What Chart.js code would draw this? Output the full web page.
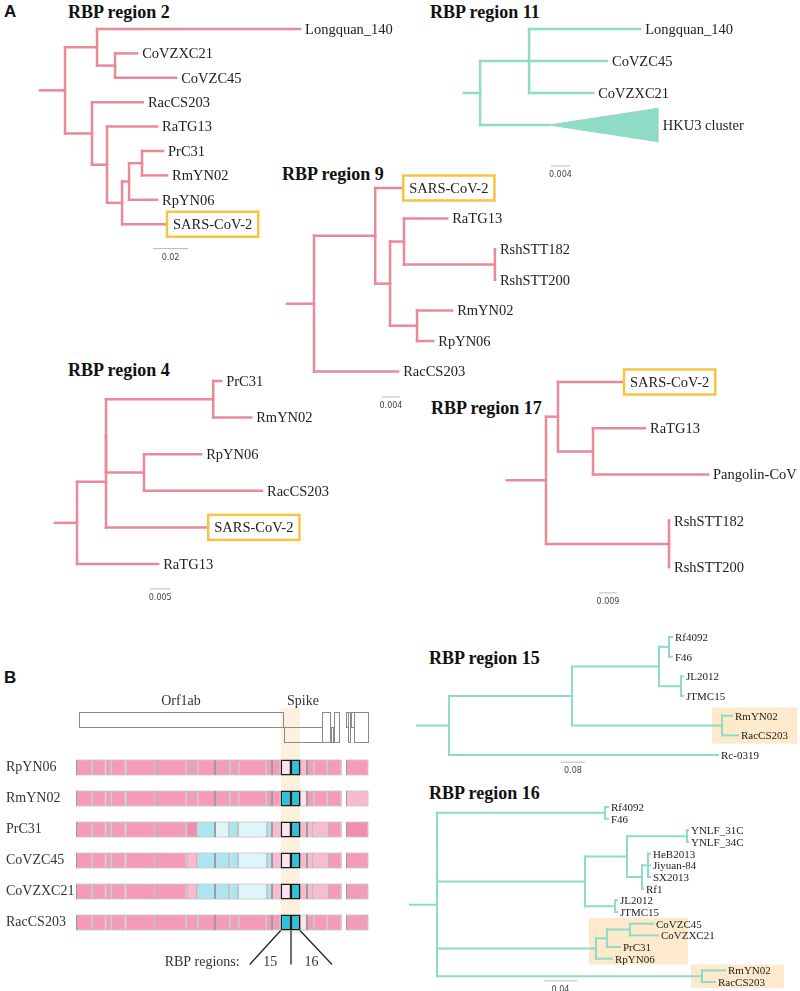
<!DOCTYPE html>
<html lang="en">
<head>
<meta charset="UTF-8">
<title>RBP region trees</title>
<script src="https://cdn.jsdelivr.net/npm/chart.js"></script>
<style>
  body { margin: 0; background: #fff; }
  #fig { position: relative; width: 800px; height: 991px; overflow: hidden; background: #fff; }
  #fig canvas { position: absolute; }
  .title { position: absolute; font: bold 18px "Liberation Serif", serif; color: #111; line-height: 22px; white-space: nowrap; }
  .panel { position: absolute; font: bold 17px "Liberation Sans", Arial, sans-serif; color: #111; line-height: 20px; }
</style>
</head>
<body>
<div id="fig">
  <div class="panel" style="left:4px;top:2px">A</div>
  <div class="panel" style="left:4px;top:668px">B</div>
  <div class="title" style="left:68px;top:1px">RBP region 2</div>
  <div class="title" style="left:430px;top:1px">RBP region 11</div>
  <div class="title" style="left:282px;top:163px">RBP region 9</div>
  <div class="title" style="left:68px;top:359px">RBP region 4</div>
  <div class="title" style="left:431px;top:397px">RBP region 17</div>
  <div class="title" style="left:429px;top:647px">RBP region 15</div>
  <div class="title" style="left:429px;top:782px">RBP region 16</div>
</div>
<script>
// ---- trees (newick, branch lengths) ----
const tree2 = "((Longquan_140:0.116,(CoVZXC21:0.0126,CoVZC45:0.0349):0.0103):0.0183,(RacCS203:0.0291,(RaTG13:0.0286,(((PrC31:0.012,RmYN02:0.0143):0.0074,RpYN06:0.016):0.004,SARS-CoV-2:0.0251):0.0086):0.0086):0.0154):0.0143;";
const tree11 = "((Longquan_140:0.0234,CoVZC45:0.0164,CoVZXC21:0.0135):0.0103,HKU3 cluster:0.0145):0.0034;";
const tree9 = "((SARS-CoV-2:0.006,((RaTG13:0.0096,(RshSTT182:0,RshSTT200:0):0.0202):0.0031,(RmYN02:0.0078,RpYN06:0.0036):0.006):0.0033):0.0136,RacCS203:0.0187):0.006;";
const tree4 = "((((PrC31:0.002,RmYN02:0.0095):0.0268,(RpYN06:0.0143,RacCS203:0.0295):0.0095):0,SARS-CoV-2:0.0253):0.00725,RaTG13:0.0203):0.0055;";
const tree17 = "((SARS-CoV-2:0.0325,(RaTG13:0.026,Pangolin-CoV:0.0575):0.0175):0.006,(RshSTT182:0,RshSTT200:0):0.0615):0.0195;";
const tree15 = "((((Rf4092:0.01,F46:0.01):0.0333,(JL2012:0.0067,JTMC15:0.0067):0.0733):0.29,(RmYN02:0.0333,RacCS203:0.0533):0.5):0.41,Rc-0319:0.8967):0.1067;";
const tree16 = "(((Rf4092:0.0036,F46:0.0036):0.2036,(((YNLF_31C:0.0012,YNLF_34C:0.0012):0.0727,((HeB2013:0.0024,Jiyuan-84:0.0024,SX2013:0.0024):0.0073,Rf1:0.0012):0.0182):0.0509,(JL2012:0.0024,JTMC15:0.0024):0.0364):0.1794):0,((((CoVZC45:0.0279,CoVZXC21:0.0339):0.0279,PrC31:0.0158):0.0133,RpYN06:0.0194):0.1927,(RmYN02:0.0279,RacCS203:0.0158):0.3212):0):0.0327;";

// collapsed clade in region 11: extra depth of the triangle
const hku3Depth = 0.0229;
const hku3Spread = 0.52;

// ---- genome panel ----
const strainRows = ['RpYN06', 'RmYN02', 'PrC31', 'CoVZC45', 'CoVZXC21', 'RacCS203'];
const segStart = [0, 1710, 3020, 3655, 5068, 8170, 11334, 12420, 14232, 15696, 16618, 19526, 20068, 20959, 22014, 22935, 23652, 24297, 25771, 27645];
const segEnd = [1710, 3020, 3655, 5068, 8170, 11334, 12420, 14232, 15696, 16618, 19526, 20068, 20959, 22014, 22935, 23652, 24297, 25771, 27205, 29949];
const cellPattern = [
  'PPPPPPPPPPPPPwCpPPPP',
  'PPPPPPPPPPPPPCCwPPPp',
  'PPPPPPDcvcvcpwCpppPD',
  'PPPPPPpcccvcpwCpppPP',
  'PPPPPPpcccvcpwCpppPP',
  'PPPPPPPPPPPPPCCwPPPP'
];
const rbpCols = [13, 14];
const rbpLabels = ['15', '16'];
// [start, end, frame] frame 0 = upper, 1 = lower, 2 = both
const orfs = [[307, 21195, 0], [21297, 25188, 1], [25188, 26007, 2], [26110, 26315, 1], [26417, 26929, 2], [27645, 27850, 0], [27850, 28055, 2], [28157, 28465, 0], [28465, 29898, 2]];
const orfNames = ['Orf1ab', 'Spike'];

const PINK = '#ea8a97';
const TEAL = '#8edcc5';
const GOLD = '#f5c540';
const SERIF = '"Liberation Serif", "DejaVu Serif", serif';
const palette = { P: '#f49bba', D: '#f08db0', p: '#f8b9d1', w: '#fce4ef', C: '#2ac3dc', c: '#ace5ef', v: '#e0f5f9' };

const fig = document.getElementById('fig');

function parseNewick(s) {
  let i = 0;
  function node() {
    const n = { name: '', len: 0, children: [] };
    if (s[i] === '(') {
      i++;
      n.children.push(node());
      while (s[i] === ',') { i++; n.children.push(node()); }
      i++;
    }
    while (i < s.length && !':,();'.includes(s[i])) n.name += s[i++];
    if (s[i] === ':') {
      i++;
      let num = '';
      while (i < s.length && !',();'.includes(s[i])) num += s[i++];
      n.len = parseFloat(num);
    }
    return n;
  }
  return node();
}

function addCanvas(box) {
  const c = document.createElement('canvas');
  c.width = box[2];
  c.height = box[3];
  c.style.left = box[0] + 'px';
  c.style.top = box[1] + 'px';
  fig.appendChild(c);
  return c;
}

function line(pts, color, width, cap) {
  return { data: pts, showLine: true, borderColor: color, borderWidth: width, pointRadius: 0, borderCapStyle: cap || 'square', fill: false };
}

const treeSpecs = [
  { newick: tree2, color: PINK, width: 2.5, font: 14.5, box: [30, 18, 380, 255], x0: 40, y0: 29, dy: 24.4, ppu: 1750, bar: { len: 0.02, at: 0.0646, row: 9 } },
  { newick: tree11, color: TEAL, width: 2.5, font: 14.5, box: [440, 18, 360, 170], x0: 464, y0: 29, dy: 32, ppu: 4750, bar: { len: 0.004, at: 0.0183, row: 4.28 }, collapsed: 'HKU3 cluster' },
  { newick: tree9, color: PINK, width: 2.5, font: 14.5, box: [270, 170, 330, 245], x0: 287, y0: 188, dy: 30.6, ppu: 4500, bar: { len: 0.004, at: 0.0211, row: 6.83 } },
  { newick: tree4, color: PINK, width: 2.5, font: 14.5, box: [40, 365, 320, 245], x0: 55, y0: 381, dy: 36.6, ppu: 4000, bar: { len: 0.005, at: 0.0238, row: 5.68 } },
  { newick: tree17, color: PINK, width: 2.5, font: 14.5, box: [495, 360, 305, 250], x0: 507, y0: 382, dy: 46.25, ppu: 2000, bar: { len: 0.009, at: 0.046, row: 4.56 } },
  { newick: tree15, color: TEAL, width: 2, font: 11, box: [405, 625, 395, 155], x0: 417, y0: 637, dy: 19.67, ppu: 300, bar: { len: 0.08, at: 0.48, row: 6.36 },
    shade: [[4, 5, 0.983, 1.267, 0.42]] },
  { newick: tree16, color: TEAL, width: 2, font: 11, box: [400, 795, 400, 196], x0: 410, y0: 807, dy: 11.67, ppu: 825, bar: { len: 0.04, at: 0.1624, row: 14.9 },
    shade: [[10, 13, 0.217, 0.337, 0.5], [14, 15, 0.3406, 0.4533, 0.5]] }
];

function drawTree(spec) {
  const root = parseNewick(spec.newick);
  const leaves = [];
  const segs = [];
  let k = 0;
  (function walk(n, from) {
    n.depth = from + n.len;
    if (!n.children.length) {
      n.y = k++;
      leaves.push(n);
    } else {
      n.children.forEach(c => walk(c, n.depth));
      const a = n.children[0].y, b = n.children[n.children.length - 1].y;
      n.y = (a + b) / 2;
      segs.push([{ x: n.depth, y: a }, { x: n.depth, y: b }]);
    }
    segs.push([{ x: from, y: n.y }, { x: n.depth, y: n.y }]);
  })(root, 0);

  const datasets = segs.map(p => line(p, spec.color, spec.width));
  if (spec.collapsed) {
    const leaf = leaves.find(l => l.name === spec.collapsed);
    const d = leaf.depth;
    datasets.push({
      data: [{ x: d, y: leaf.y }, { x: d + hku3Depth, y: leaf.y - hku3Spread }, { x: d + hku3Depth, y: leaf.y + hku3Spread }, { x: d, y: leaf.y }],
      showLine: true, pointRadius: 0, borderColor: spec.color, backgroundColor: spec.color, borderWidth: 1, fill: 'shape'
    });
  }
  const b = spec.bar;
  datasets.push(line([{ x: b.at, y: b.row }, { x: b.at + b.len, y: b.row }], '#b8b8b8', 1, 'butt'));

  const box = spec.box;
  const canvas = addCanvas(box);
  new Chart(canvas, {
    type: 'scatter',
    data: { datasets },
    options: {
      responsive: false, animation: false, events: [],
      layout: { padding: 0, autoPadding: false },
      plugins: { legend: { display: false }, tooltip: { enabled: false } },
      scales: {
        x: { type: 'linear', display: false, min: (box[0] - spec.x0) / spec.ppu, max: (box[0] + box[2] - spec.x0) / spec.ppu },
        y: { type: 'linear', display: false, reverse: true, min: (box[1] - spec.y0) / spec.dy, max: (box[1] + box[3] - spec.y0) / spec.dy }
      }
    },
    plugins: [{
      id: 'treeText',
      beforeDatasetsDraw(chart) {
        const { ctx, scales: { x, y } } = chart;
        (spec.shade || []).forEach(s => {
          ctx.fillStyle = '#fde9cc';
          const top = y.getPixelForValue(s[0] - s[4]);
          const bot = y.getPixelForValue(s[1] + s[4]);
          const l = x.getPixelForValue(s[2]);
          ctx.fillRect(l, top, x.getPixelForValue(s[3]) - l, bot - top);
        });
      },
      afterDatasetsDraw(chart) {
        const { ctx, scales: { x, y } } = chart;
        ctx.save();
        ctx.font = spec.font + 'px ' + SERIF;
        ctx.textBaseline = 'middle';
        ctx.fillStyle = '#222';
        leaves.forEach(l => {
          let px = x.getPixelForValue(l.depth);
          const py = y.getPixelForValue(l.y);
          if (l.name === spec.collapsed) px = x.getPixelForValue(l.depth + hku3Depth);
          if (l.name === 'SARS-CoV-2' && spec.font > 12) {
            const w = ctx.measureText(l.name).width;
            ctx.strokeStyle = GOLD;
            ctx.lineWidth = 2.5;
            ctx.strokeRect(px + 1, py - 12.5, w + 12, 25);
            ctx.fillText(l.name, px + 7, py + 1);
          } else {
            ctx.fillText(l.name, px + (spec.font > 12 ? 5 : 3), py + 1);
          }
        });
        ctx.font = '8px "DejaVu Sans", sans-serif';
        ctx.fillStyle = '#444';
        ctx.textAlign = 'center';
        ctx.fillText(String(b.len), x.getPixelForValue(b.at + b.len / 2), y.getPixelForValue(b.row) + 9);
        ctx.restore();
      }
    }]
  });
}

treeSpecs.forEach(drawTree);

// ---- genome mosaic ----
const gCanvas = addCanvas([0, 690, 400, 290]);
const gDatasets = segStart.map((s, i) => {
  const focus = rbpCols.includes(i);
  return {
    data: strainRows.map(() => [s, segEnd[i]]),
    backgroundColor: cellPattern.map(r => palette[r[i]]),
    borderColor: focus ? '#1b1b1b' : '#9d9d9d',
    borderWidth: focus ? 1.5 : 1,
    borderSkipped: false,
    grouped: false,
    barPercentage: 1,
    categoryPercentage: 16 / 31,
    order: focus ? 0 : 1
  };
});

new Chart(gCanvas, {
  type: 'bar',
  data: { labels: strainRows, datasets: gDatasets },
  options: {
    indexAxis: 'y',
    responsive: false, animation: false, events: [],
    layout: { padding: { left: 6, right: 31, top: 62, bottom: 42 }, autoPadding: false },
    plugins: { legend: { display: false }, tooltip: { enabled: false } },
    scales: {
      x: { type: 'linear', min: 0, max: 30000, display: false },
      y: {
        type: 'category',
        grid: { display: false }, border: { display: false },
        ticks: { color: '#333', font: { family: SERIF, size: 14 }, crossAlign: 'far', padding: 0 },
        afterFit(s) { s.width = 70; }
      }
    }
  },
  plugins: [{
    id: 'genomeExtras',
    beforeDatasetsDraw(chart) {
      const { ctx, chartArea: a, scales: { x } } = chart;
      const l = x.getPixelForValue(segStart[rbpCols[0]]);
      const r = x.getPixelForValue(segEnd[rbpCols[1]]);
      ctx.save();
      ctx.fillStyle = '#fdf0de';
      ctx.fillRect(l, a.top - 44, r - l, a.bottom - a.top + 39);
      ctx.strokeStyle = '#8a8a8a';
      ctx.lineWidth = 1;
      orfs.forEach(o => {
        const x1 = x.getPixelForValue(o[0]), x2 = x.getPixelForValue(o[1]);
        const t = o[2] === 1 ? a.top - 25 : a.top - 40;
        const h = o[2] === 2 ? 30 : 15;
        ctx.strokeRect(Math.round(x1) + 0.5, t + 0.5, Math.round(x2 - x1), h);
      });
      ctx.font = '14px ' + SERIF;
      ctx.fillStyle = '#333';
      ctx.textAlign = 'center';
      ctx.textBaseline = 'middle';
      orfNames.forEach((n, i) => {
        ctx.fillText(n, x.getPixelForValue((orfs[i][0] + orfs[i][1]) / 2), a.top - 51);
      });
      ctx.restore();
    },
    afterDatasetsDraw(chart) {
      const { ctx, chartArea: a, scales: { x } } = chart;
      const xa = x.getPixelForValue(segStart[rbpCols[0]]);
      const xm = x.getPixelForValue(segEnd[rbpCols[0]]);
      const xb = x.getPixelForValue(segEnd[rbpCols[1]]);
      const y1 = a.bottom - 7.5, y2 = y1 + 34;
      ctx.save();
      ctx.strokeStyle = '#222';
      ctx.lineWidth = 1.3;
      ctx.beginPath();
      ctx.moveTo(xa, y1); ctx.lineTo(xa - 31, y2);
      ctx.moveTo(xm, y1); ctx.lineTo(xm, y2);
      ctx.moveTo(xb, y1); ctx.lineTo(xb + 32, y2);
      ctx.stroke();
      ctx.font = '14px ' + SERIF;
      ctx.fillStyle = '#333';
      ctx.textBaseline = 'middle';
      ctx.textAlign = 'right';
      ctx.fillText('RBP regions:', xa - 41, y2 - 2);
      ctx.textAlign = 'center';
      ctx.fillText(rbpLabels[0], (xa - 31 + xm) / 2, y2 - 2);
      ctx.fillText(rbpLabels[1], (xm + xb + 32) / 2, y2 - 2);
      ctx.restore();
    }
  }]
});
</script>
</body>
</html>
